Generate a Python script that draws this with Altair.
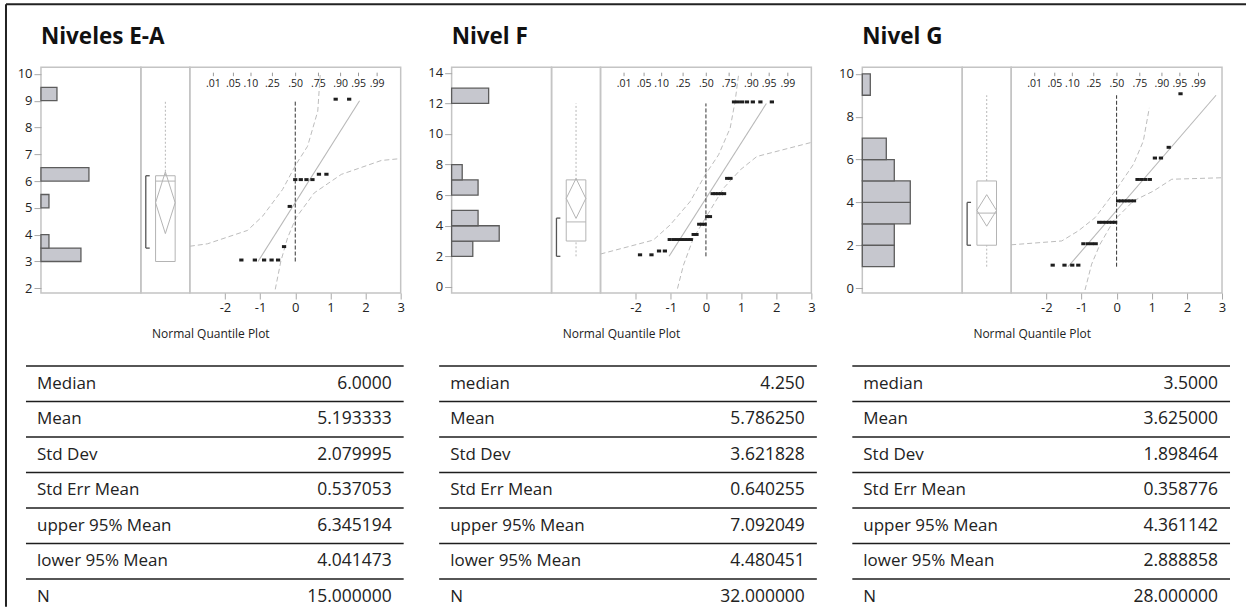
import altair as alt
import pandas as pd

FONT = "Open Sans"
INK = "#1e1e1e"
FRAME = "#c4c4c4"
BOXC = "#b4b4b4"

TITLES = ["Niveles E-A", "Nivel F", "Nivel G"]
AXIS_CAPTION = "Normal Quantile Plot"

# sorted observations and their normal scores (horizontal position in the quantile plot)
OBS_EA = [3, 3, 3, 3, 3, 3.5, 5, 6, 6, 6, 6, 6.2, 6.2, 9, 9]
NSCORE_EA = [-1.534, -1.150, -0.887, -0.674, -0.489, -0.319, -0.157, 0.0,
             0.157, 0.319, 0.489, 0.674, 0.887, 1.150, 1.534]
OBS_F = [2, 2, 2.25, 2.25, 3, 3, 3, 3, 3, 3, 3, 3.33, 3.33, 4, 4, 4, 4.5, 4.5,
         6, 6, 6, 6, 6, 7, 7, 12, 12, 12, 12, 12, 12, 12]
NSCORE_F = [-1.876, -1.550, -1.335, -1.168, -1.030, -0.908, -0.799, -0.698,
            -0.605, -0.516, -0.431, -0.349, -0.269, -0.191, -0.114, -0.038,
            0.038, 0.114, 0.191, 0.269, 0.349, 0.431, 0.516, 0.605,
            0.698, 0.799, 0.908, 1.030, 1.168, 1.335, 1.550, 1.876]
OBS_G = [1, 1, 1, 1, 2, 2, 2, 2, 3, 3, 3, 3, 3, 3, 4, 4, 4, 4, 4, 4,
         5, 5, 5, 5, 6, 6, 6.5, 9]
NSCORE_G = [-1.819, -1.483, -1.262, -1.090, -0.945, -0.817, -0.702, -0.595,
            -0.495, -0.399, -0.307, -0.218, -0.130, -0.043, 0.043, 0.130,
            0.218, 0.307, 0.399, 0.495, 0.595, 0.702, 0.817, 0.945,
            1.090, 1.262, 1.483, 1.819]
OBS = [OBS_EA, OBS_F, OBS_G]
NSCORE = [NSCORE_EA, NSCORE_F, NSCORE_G]

# histograms
HIST_LO = [[3, 3.5, 5, 6, 9], [2, 3, 4, 6, 7, 12], [1, 2, 3, 4, 5, 6, 9]]
HIST_HI = [[3.5, 4, 5.5, 6.5, 9.5], [3, 4, 5, 7, 8, 13], [2, 3, 4, 5, 6, 7, 10]]
HIST_N = [[5, 1, 1, 6, 2], [4, 9, 5, 5, 2, 7], [4, 4, 6, 6, 4, 3, 1]]
HIST_MAX = [12.5, 18.9, 12.5]

# box plot summaries
BOX_MIN = [3, 2, 1]
BOX_Q1 = [3, 3, 2]
BOX_MED = [6, 4.25, 3.5]
BOX_Q3 = [6.2, 7, 5]
BOX_MAX = [9, 12, 9]
MEAN = [5.193333, 5.78625, 3.625]
CI_LO = [4.041473, 4.480451, 2.888858]
CI_HI = [6.345194, 7.092049, 4.361142]
SHORT_LO = [3.5, 2, 2]
SHORT_HI = [6.2, 4.5, 4]
DIAMOND_X = [0.5, 0.7, 0.5, 0.3, 0.5]

# fitted normal line in the quantile plot
REF_Z = [[-1.06, 1.83], [-1.05, 1.72], [-1.38, 2.83]]
REF_V = [[3, 9], [2, 12], [1, 9]]

# confidence bands
BAND_UP_Z = [
    [-3.0, -2.5, -1.36, -0.93, -0.36, 0.02, 0.35, 0.64, 0.71],
    [-3.0, -1.50, -1.02, -0.45, -0.02, 0.36, 0.69, 0.83, 0.93],
    [-3.0, -1.56, -1.09, -0.61, -0.04, 0.48, 0.76, 0.93],
]
BAND_UP_V = [
    [3.57, 3.66, 4.16, 4.69, 5.69, 6.62, 7.30, 8.61, 9.98],
    [2.15, 3.06, 4.05, 5.58, 7.33, 8.64, 10.39, 12.14, 13.89],
    [2.02, 2.20, 2.67, 3.29, 4.53, 5.78, 6.86, 8.41],
]
BAND_LO_Z = [
    [-0.57, -0.41, -0.22, 0.02, 0.54, 1.31, 2.45, 3.0],
    [-0.81, -0.64, -0.36, -0.02, 0.50, 0.98, 1.45, 3.0],
    [-0.90, -0.71, -0.47, -0.09, 0.48, 1.05, 1.57, 3.0],
]
BAND_LO_V = [
    [1.96, 3.01, 3.88, 4.63, 5.56, 6.25, 6.77, 6.84],
    [-0.11, 1.42, 3.17, 4.48, 6.45, 7.66, 8.53, 9.45],
    [-0.09, 1.12, 2.05, 3.13, 4.07, 4.53, 5.08, 5.15],
]

# probability scale along the top of the quantile plot (positions as drawn)
QUANT_Z = [-2.33, -1.76, -1.26, -0.65, 0.01, 0.66, 1.29, 1.80, 2.33]
QUANT_LABELS = [".01", ".05", ".10", ".25", ".50", ".75", ".90", ".95", ".99"]

Y_DOMAIN = [[1.825, 10.25], [-0.4, 14.37], [-0.23, 10.31]]
Y_TICKS = [[2, 3, 4, 5, 6, 7, 8, 9, 10], [0, 2, 4, 6, 8, 10, 12, 14], [0, 2, 4, 6, 8, 10]]
X_TICKS = [-2, -1, 0, 1, 2, 3]

STAT_LABELS = [
    ["Median", "Mean", "Std Dev", "Std Err Mean", "upper 95% Mean", "lower 95% Mean", "N"],
    ["median", "Mean", "Std Dev", "Std Err Mean", "upper 95% Mean", "lower 95% Mean", "N"],
    ["median", "Mean", "Std Dev", "Std Err Mean", "upper 95% Mean", "lower 95% Mean", "N"],
]
STAT_VALUES = [
    ["6.0000", "5.193333", "2.079995", "0.537053", "6.345194", "4.041473", "15.000000"],
    ["4.250", "5.786250", "3.621828", "0.640255", "7.092049", "4.480451", "32.000000"],
    ["3.5000", "3.625000", "1.898464", "0.358776", "4.361142", "2.888858", "28.000000"],
]

# layout (pixels, relative to each histogram's plot area)
PLOT_H = 226
TABLE_TOP = 299
ROW_H = 35.55
TABLE_SHIFT = [-15, -12.5, -10]
TABLE_W = 378
RECT_SHAPE = "M-1,-0.7L1,-0.7L1,0.7L-1,0.7Z"


def panel_units(i):
    ys = alt.Scale(domain=Y_DOMAIN[i], nice=False, zero=False)

    def yy(f):
        return alt.Y(f, type="quantitative", scale=ys, axis=None)

    # ---------------- histogram (+ title and statistics table) ----------------
    hdf = pd.DataFrame({"lo": HIST_LO[i], "hi": HIST_HI[i], "n": HIST_N[i]})
    yaxis = alt.Axis(values=Y_TICKS[i], title="", grid=False, domain=False,
                     tickColor="#a8a8a8", tickSize=7, labelFontSize=13,
                     labelColor="#222", labelPadding=2, labelFont=FONT,
                     labelFlush=False, labelExpr="'' + datum.value")
    bars = alt.Chart(hdf).mark_rect(fill="#c6c7ce", stroke="#5c5c5c", strokeWidth=1.3).encode(
        x=alt.X("n:Q", scale=alt.Scale(domain=[0, HIST_MAX[i]], nice=False), axis=None),
        x2=alt.datum(0),
        y=alt.Y("lo:Q", scale=ys, axis=yaxis),
        y2="hi:Q",
    )
    one = pd.DataFrame({"t": [TITLES[i]]})
    title = alt.Chart(one).mark_text(
        align="left", baseline="alphabetic", fontSize=22.5, fontWeight="bold", font=FONT,
        color="#111").encode(x=alt.value(0), y=alt.value(-23), text="t:N")

    sh = TABLE_SHIFT[i]
    n_rows = len(STAT_LABELS[i])
    tdf = pd.DataFrame({"label": STAT_LABELS[i], "value": STAT_VALUES[i]})
    tdf["py"] = [TABLE_TOP + ROW_H * (k + 0.5) for k in range(n_rows)]
    ldf = pd.DataFrame({"ly": [TABLE_TOP + ROW_H * k for k in range(n_rows)]})
    lines = alt.Chart(ldf).mark_rule(color="#1e1e1e", strokeWidth=1.5).encode(
        x=alt.value(sh), x2=alt.value(sh + TABLE_W), y=alt.Y("ly:Q", scale=None, axis=None))
    labels = alt.Chart(tdf).mark_text(align="left", baseline="middle", fontSize=17, font=FONT,
                                      color="#222").encode(
        x=alt.value(sh + 11), y=alt.Y("py:Q", scale=None, axis=None), text="label:N")
    values = alt.Chart(tdf).mark_text(align="right", baseline="middle", fontSize=17.5, font=FONT,
                                      color="#222").encode(
        x=alt.value(sh + TABLE_W - 12), y=alt.Y("py:Q", scale=None, axis=None), text="value:N")
    cap = alt.Chart(pd.DataFrame({"t": [AXIS_CAPTION]})).mark_text(
        fontSize=12, font=FONT, color="#222", baseline="middle").encode(
        x=alt.value(170), y=alt.value(267), text="t:N")
    layers = [bars, title, lines, labels, values, cap]
    if i == 0:
        bd = pd.DataFrame({"a": [0]})
        top = alt.Chart(bd).mark_rule(color="#222", strokeWidth=2).encode(
            x=alt.value(-35), x2=alt.value(1206), y=alt.value(-63))
        left = alt.Chart(bd).mark_rule(color="#222", strokeWidth=2).encode(
            x=alt.value(-35), y=alt.value(-63), y2=alt.value(540))
        layers += [top, left]
    hist = alt.layer(*layers).resolve_scale(y="independent").properties(width=100, height=PLOT_H)

    # ---------------- box plot ----------------
    bxs = alt.Scale(domain=[0, 1], nice=False, zero=False)

    def bx(v):
        return alt.XDatum(v, type="quantitative", scale=bxs, axis=None)

    sdf = pd.DataFrame({
        "mn": [BOX_MIN[i]], "q1": [BOX_Q1[i]], "med": [BOX_MED[i]], "q3": [BOX_Q3[i]],
        "mx": [BOX_MAX[i]], "slo": [SHORT_LO[i]], "shi": [SHORT_HI[i]],
    })
    base = alt.Chart(sdf)
    box_rect = base.mark_rect(fill="transparent", stroke=BOXC, strokeWidth=1).encode(
        x=bx(0.3), x2=alt.datum(0.7), y=yy("q1"), y2="q3:Q")
    med = base.mark_rule(color=BOXC, strokeWidth=1).encode(
        x=bx(0.3), x2=alt.datum(0.7), y=yy("med"))
    wh_up = base.mark_rule(color="#b8b8b8", strokeWidth=1, strokeDash=[2, 2]).encode(
        x=bx(0.5), y=yy("q3"), y2="mx:Q")
    wh_lo = base.mark_rule(color="#b8b8b8", strokeWidth=1, strokeDash=[2, 2]).encode(
        x=bx(0.5), y=yy("mn"), y2="q1:Q")
    ddf = pd.DataFrame({
        "dx": DIAMOND_X,
        "dy": [CI_HI[i], MEAN[i], CI_LO[i], MEAN[i], CI_HI[i]],
        "o": list(range(5)),
    })
    diamond = alt.Chart(ddf).mark_line(color=BOXC, strokeWidth=1).encode(
        x=alt.X("dx:Q", scale=bxs, axis=None), y=yy("dy"), order="o:Q")
    br = base.mark_rule(color="#555", strokeWidth=1.3).encode(x=bx(0.1), y=yy("slo"), y2="shi:Q")
    br_lo = base.mark_rule(color="#555", strokeWidth=1.3).encode(
        x=bx(0.1), x2=alt.datum(0.18), y=yy("slo"))
    br_hi = base.mark_rule(color="#555", strokeWidth=1.3).encode(
        x=bx(0.1), x2=alt.datum(0.18), y=yy("shi"))
    box = alt.layer(box_rect, med, wh_up, wh_lo, diamond, br, br_lo, br_hi).properties(
        width=49, height=PLOT_H)

    # ---------------- normal quantile plot ----------------
    xs = alt.Scale(domain=[-3, 3], nice=False, zero=False)
    xax = alt.Axis(values=X_TICKS, title="", grid=False, domain=False, tickColor="#a8a8a8",
                   tickSize=6, labelFontSize=13, labelColor="#222", labelPadding=3,
                   labelFont=FONT, labelFlush=False, labelExpr="'' + datum.value")

    def xq(f):
        return alt.X(f, type="quantitative", scale=xs, axis=xax)

    n_up, n_lo = len(BAND_UP_Z[i]), len(BAND_LO_Z[i])
    bdf = pd.DataFrame({
        "z": BAND_UP_Z[i] + BAND_LO_Z[i],
        "v": BAND_UP_V[i] + BAND_LO_V[i],
        "b": ["up"] * n_up + ["lo"] * n_lo,
        "k": list(range(n_up)) + list(range(n_lo)),
    })
    bands = alt.Chart(bdf).mark_line(color="#bcbcbc", strokeWidth=1, strokeDash=[5, 3], clip=True).encode(
        x=xq("z"), y=yy("v"), detail="b:N", order="k:Q")
    rdf = pd.DataFrame({"z": REF_Z[i], "v": REF_V[i]})
    ref = alt.Chart(rdf).mark_line(color="#b8b8b8", strokeWidth=1.1, clip=True).encode(
        x=xq("z"), y=yy("v"))
    zdf = pd.DataFrame({"z": [0], "lo": [OBS[i][0]], "hi": [OBS[i][-1]]})
    zero = alt.Chart(zdf).mark_rule(color="#333", strokeWidth=1, strokeDash=[4, 2]).encode(
        x=xq("z"), y=yy("lo"), y2="hi:Q")
    pdf = pd.DataFrame({"z": NSCORE[i], "v": OBS[i]})
    pts = alt.Chart(pdf).mark_point(shape=RECT_SHAPE, size=18, filled=True, color=INK,
                                    opacity=1, yOffset=-1.5).encode(x=xq("z"), y=yy("v"))
    qdf = pd.DataFrame({"qz": QUANT_Z, "ql": QUANT_LABELS})
    qticks = alt.Chart(qdf).mark_rule(color="#999", strokeWidth=1).encode(
        x=xq("qz"), y=alt.value(5.5), y2=alt.value(9))
    qlabels = alt.Chart(qdf).mark_text(fontSize=10.5, font=FONT, color="#222", baseline="middle").encode(
        x=xq("qz"), y=alt.value(17), text="ql:N")
    qq = alt.layer(bands, ref, zero, pts, qticks, qlabels).properties(width=211, height=PLOT_H)

    return [hist, box, qq]


def spacer(w, h):
    return alt.Chart(pd.DataFrame({"a": [0]})).mark_point(opacity=0).encode(
        x=alt.value(0), y=alt.value(0)
    ).properties(width=w, height=h, view=alt.ViewBackground(stroke="transparent"))


cells = []
for i in range(3):
    cells += panel_units(i)
    if i < 2:
        cells.append(spacer(51, PLOT_H))

chart = alt.hconcat(*cells, spacing=0, bounds="flush").properties(
    padding={"left": 4, "top": 2, "right": 0, "bottom": 0},
    background="white",
).configure_view(stroke=FRAME, strokeWidth=1.5)

chart.save("out.html", embed_options={"renderer": "svg", "actions": False})
